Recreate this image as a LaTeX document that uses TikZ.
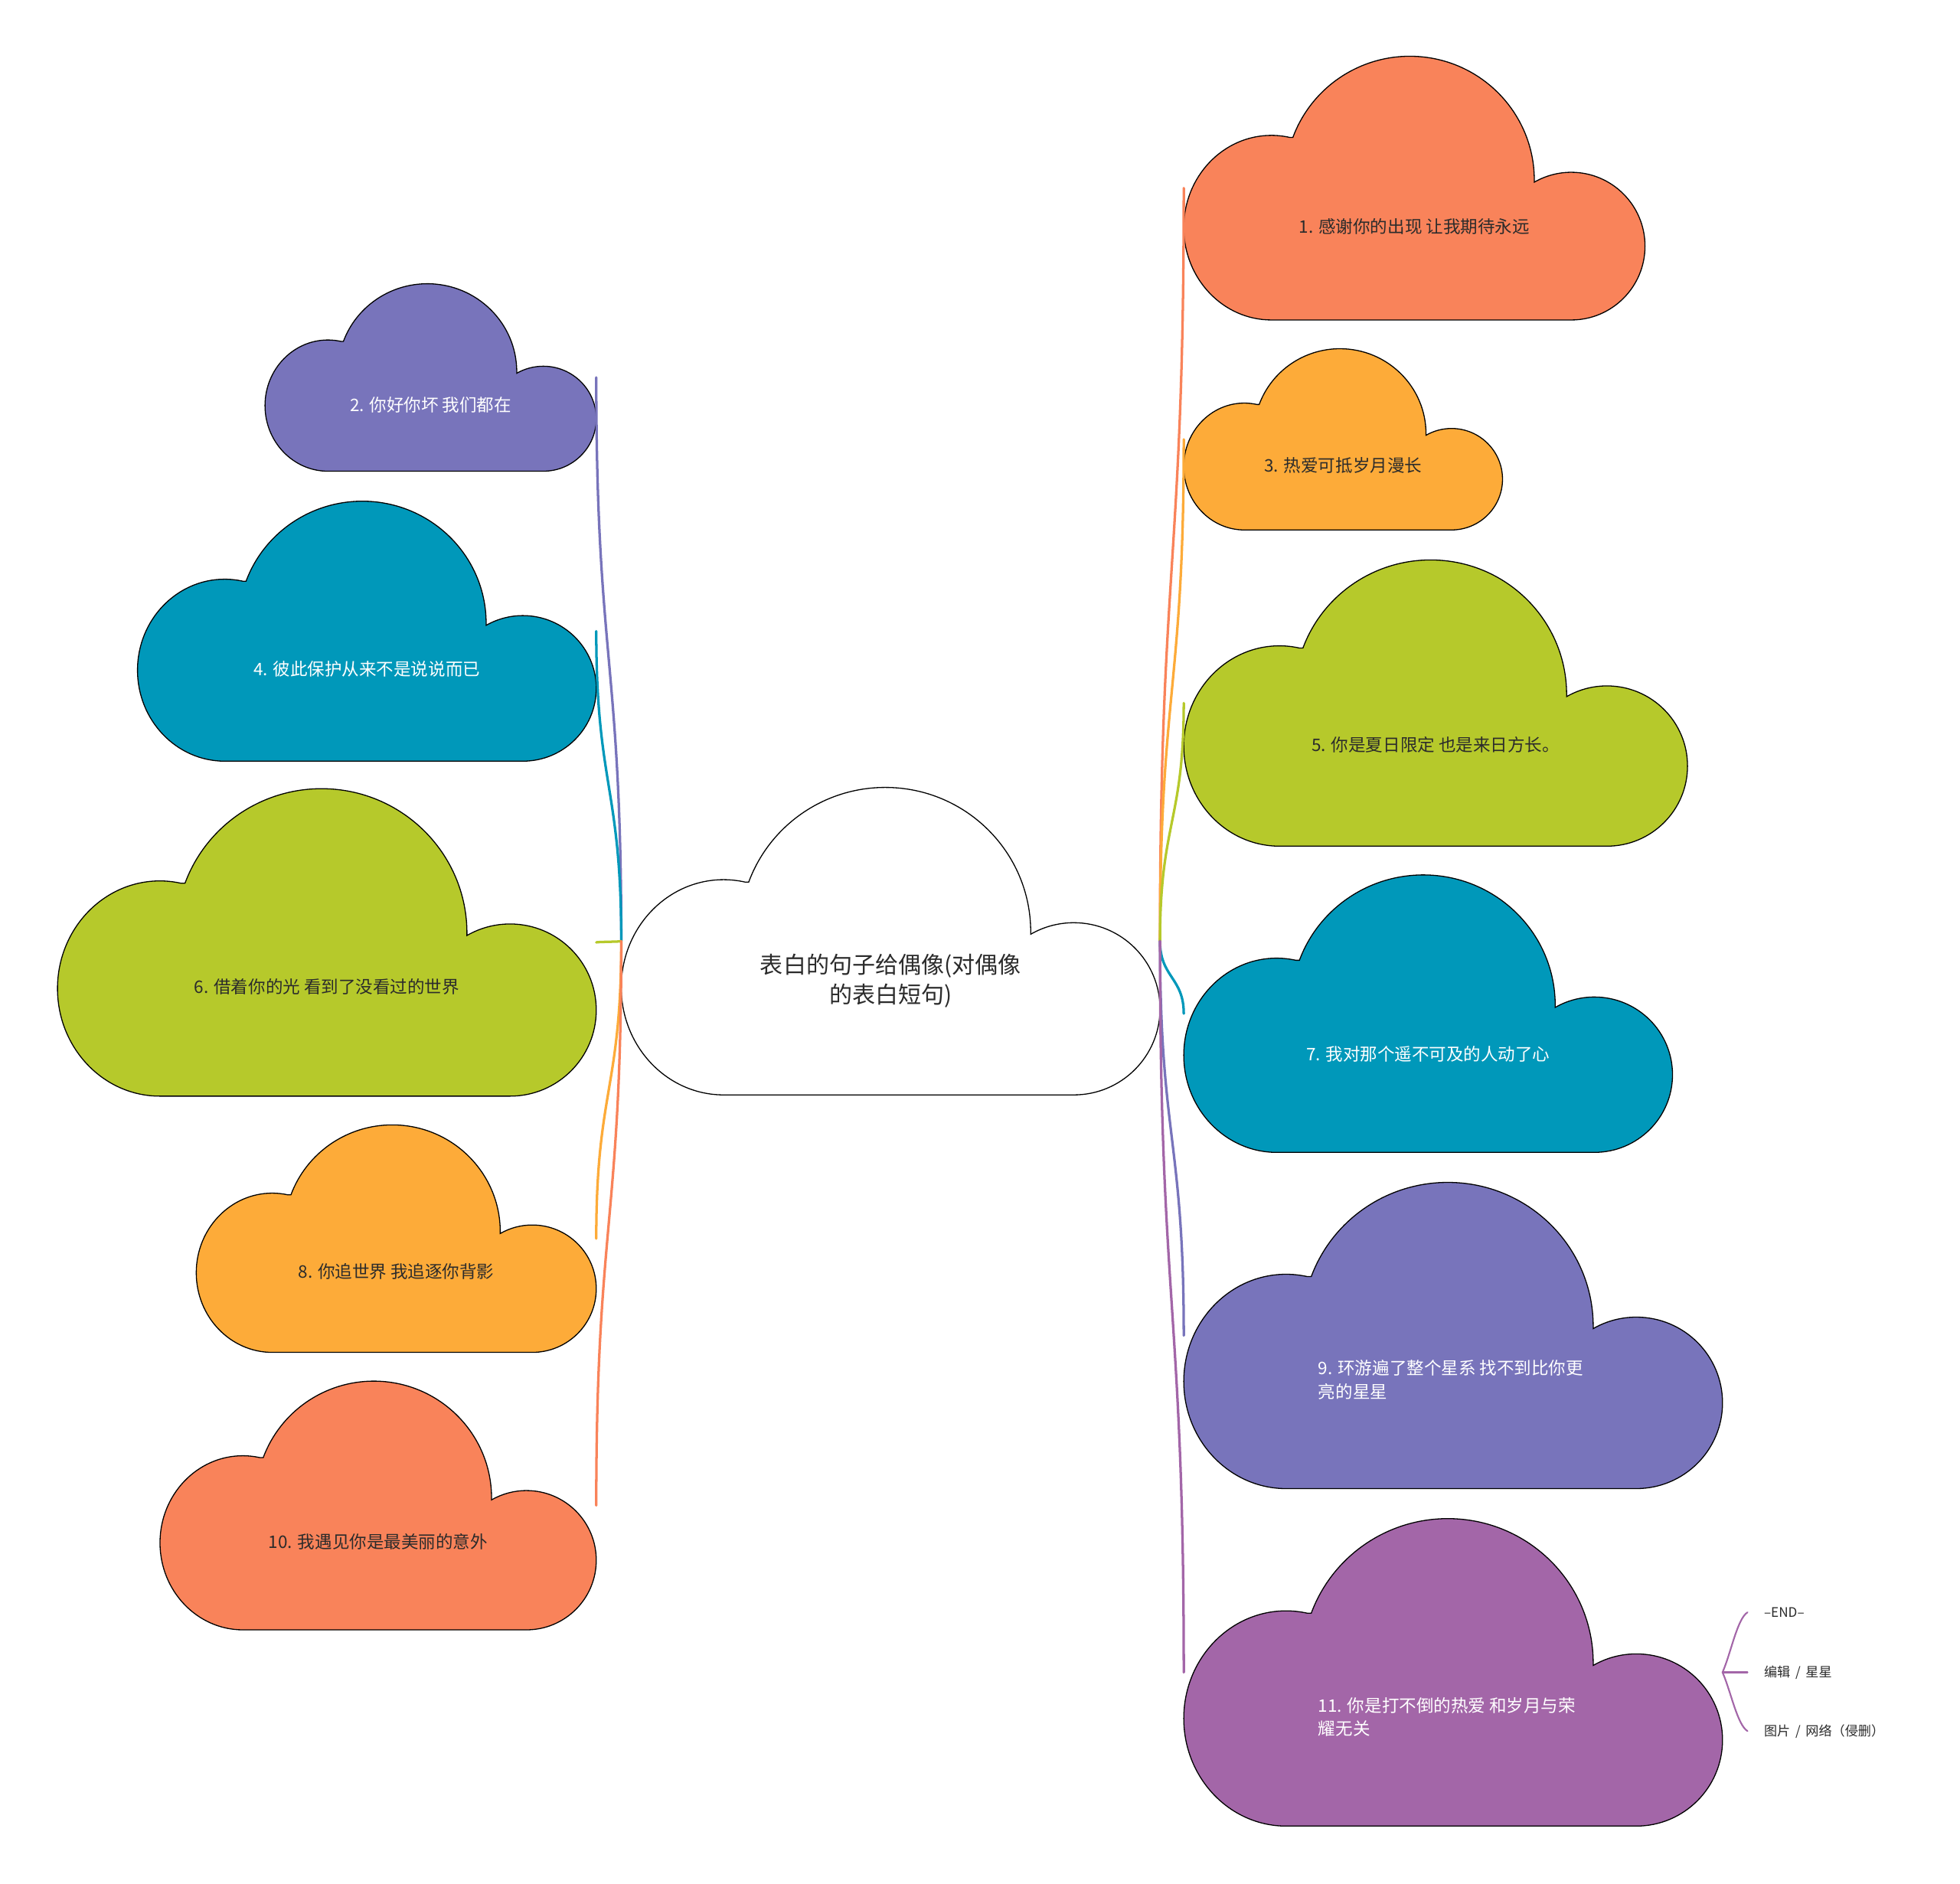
\documentclass[tikz,border=0pt]{standalone}
\usepackage{fontspec}
\setmainfont{Noto Sans CJK SC}
\usetikzlibrary{calc}
\definecolor{cOrange}{HTML}{F9835A}
\definecolor{cYellow}{HTML}{FDAB39}
\definecolor{cLime}{HTML}{B6C92B}
\definecolor{cTeal}{HTML}{0098BA}
\definecolor{cBlue}{HTML}{7874BB}
\definecolor{cPurple}{HTML}{A366A8}
\definecolor{cText}{HTML}{2B2B2B}
\tikzset{
  bbox/.style={inner sep=0pt, outer sep=0pt, draw=none},
  cloudline/.style={draw=black, line width=0.8pt},
  linkline/.style={line width=2pt, line cap=round},
  bracelink/.style={line width=1.3pt, line cap=round, draw=cPurple},
  ctext/.style={font=\fontsize{13.8}{18.5}\selectfont, text=cText, align=left, inner sep=0pt},
  wtext/.style={ctext, text=white},
  maintext/.style={font=\fontsize{18.4}{24}\selectfont, text=cText, align=center, inner sep=0pt},
  notetext/.style={font=\fontsize{10.5}{13}\selectfont, text=cText, anchor=west, inner xsep=13pt, inner ysep=0pt}
}
\newcommand\mycloud[6]{%
  \node[bbox, minimum width=#4pt, minimum height=#5pt, anchor=north west] (#1) at (#2,#3) {};
  \begin{scope}[shift={(#2,#3)}, xscale=#4, yscale=#5]
    \filldraw[cloudline, fill=#6] (0.19,1)
      .. controls (0.085,1) and (0,0.843) .. (0,0.65)
      .. controls (0,0.457) and (0.085,0.30) .. (0.19,0.30)
      .. controls (0.203,0.30) and (0.2165,0.3026) .. (0.2295,0.3077)
      -- (0.2366,0.3077)
      .. controls (0.2757,0.1228) and (0.3768,0) .. (0.49,0)
      .. controls (0.6391,0) and (0.76,0.2104) .. (0.76,0.47)
      -- (0.76,0.4775)
      .. controls (0.7843,0.4529) and (0.8119,0.44) .. (0.84,0.44)
      .. controls (0.9284,0.44) and (1,0.5654) .. (1,0.72)
      .. controls (1,0.8746) and (0.9284,1) .. (0.84,1)
      -- cycle;
  \end{scope}}
\newcommand\mylink[4]{%
  \path (#2) -- (#3) coordinate[pos=0.5] (mid#4);
  \draw[linkline, draw=#1] (#2) .. controls (#2 |- mid#4) and (#3 |- mid#4) .. (#3);}
\begin{document}
\begin{tikzpicture}[x=1pt, y=-1pt]
\useasboundingbox (0,0) rectangle (1568,1507);
\fill[white] (0,0) rectangle (1568,1507);

% clouds
\mycloud{c0}{497}{630}{431}{246}{white}
\mycloud{c1}{947}{45}{369}{211}{cOrange}
\mycloud{c3}{947}{279}{255}{145}{cYellow}
\mycloud{c5}{947}{448}{403}{229}{cLime}
\mycloud{c7}{947}{700}{391}{222}{cTeal}
\mycloud{c9}{947}{946}{431}{245}{cBlue}
\mycloud{c11}{947}{1215}{431}{246}{cPurple}
\mycloud{c2}{212}{227}{265}{150}{cBlue}
\mycloud{c4}{110}{401}{367}{208}{cTeal}
\mycloud{c6}{46}{631}{431}{246}{cLime}
\mycloud{c8}{157}{900}{320}{182}{cYellow}
\mycloud{c10}{128}{1105}{349}{199}{cOrange}

% texts
\node[maintext] (t0) at ($(c0.north)!0.63!(c0.south)$) {表白的句子给偶像(对偶像\\的表白短句)};
\node[ctext] (t1) at ($(c1.north)!0.645!(c1.south)$) {1. 感谢你的出现 让我期待永远};
\node[ctext] (t3) at ($(c3.north)!0.645!(c3.south)$) {3. 热爱可抵岁月漫长};
\node[ctext] (t5) at ($(c5.north)!0.645!(c5.south)$) {5. 你是夏日限定 也是来日方长。};
\node[wtext] (t7) at ($(c7.north)!0.645!(c7.south)$) {7. 我对那个遥不可及的人动了心};
\node[wtext, anchor=west] (t9) at ($(c9.north)!0.645!(c9.south) + (-108,0)$) {9. 环游遍了整个星系 找不到比你更\\亮的星星};
\node[wtext, anchor=west] (t11) at ($(c11.north)!0.645!(c11.south) + (-108,0)$) {11. 你是打不倒的热爱 和岁月与荣\\耀无关};
\node[wtext] (t2) at ($(c2.north)!0.645!(c2.south)$) {2. 你好你坏 我们都在};
\node[wtext] (t4) at ($(c4.north)!0.645!(c4.south)$) {4. 彼此保护从来不是说说而已};
\node[ctext] (t6) at ($(c6.north)!0.645!(c6.south)$) {6. 借着你的光 看到了没看过的世界};
\node[ctext] (t8) at ($(c8.north)!0.645!(c8.south)$) {8. 你追世界 我追逐你背影};
\node[ctext] (t10) at ($(c10.north)!0.645!(c10.south)$) {10. 我遇见你是最美丽的意外};

% junctions
\coordinate (JL) at (c0.west);
\coordinate (JR) at (c0.east);

% connectors right
\mylink{cOrange}{JR}{c1.west}{a}
\mylink{cYellow}{JR}{c3.west}{b}
\mylink{cLime}{JR}{c5.west}{c}
\mylink{cTeal}{JR}{c7.west}{d}
\mylink{cBlue}{JR}{c9.west}{e}
\mylink{cPurple}{JR}{c11.west}{f}
% connectors left
\mylink{cBlue}{JL}{c2.east}{g}
\mylink{cTeal}{JL}{c4.east}{h}
\mylink{cLime}{JL}{c6.east}{i}
\mylink{cYellow}{JL}{c8.east}{j}
\mylink{cOrange}{JL}{c10.east}{k}

% notes
\node[notetext] (e1) at (1398,1290) {–END–};
\node[notetext] (e2) at (1398,1338) {编辑 \,/\, 星星};
\node[notetext] (e3) at (1398,1385) {图片 \,/\, 网络（侵删）};
\draw[bracelink] (c11.east) .. controls +(6.7,-15.3) and ($(e1.west)+(-8.2,5)$) .. (e1.west);
\draw[bracelink] (c11.east) -- (e2.west);
\draw[bracelink] (c11.east) .. controls +(6.7,15.3) and ($(e3.west)+(-8.2,-5)$) .. (e3.west);
\end{tikzpicture}
\end{document}
